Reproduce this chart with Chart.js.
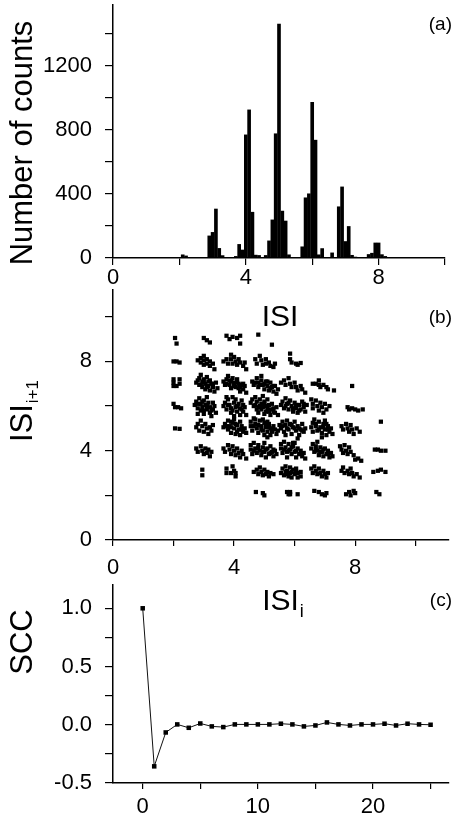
<!DOCTYPE html>
<html>
<head>
<meta charset="utf-8">
<title>ISI histogram, return map and SCC</title>
<script src="https://cdn.jsdelivr.net/npm/chart.js@4.4.1/dist/chart.umd.min.js"></script>
<style>
  html, body { margin: 0; padding: 0; background: #fff; }
  body { width: 453px; height: 824px; position: relative; overflow: hidden; }
  canvas { position: absolute; left: 0; }
</style>
</head>
<body>
<canvas id="histChart" width="453" height="330" style="top:0px"></canvas>
<canvas id="mapChart" width="453" height="340" style="top:280px"></canvas>
<canvas id="sccChart" width="453" height="249" style="top:575px"></canvas>
<script>
// (a) histogram of interspike intervals, bin centres and counts
const HIST_BINS = [0.5, 0.6, 0.7, 0.8, 0.9, 1.0, 1.1, 1.2, 1.3, 1.4, 1.5, 1.6, 1.7, 1.8, 1.9,
  2.0, 2.1, 2.2, 2.3, 2.4, 2.5, 2.6, 2.7, 2.8, 2.9, 3.0, 3.1, 3.2, 3.3, 3.4, 3.5, 3.6, 3.7, 3.8, 3.9,
  4.0, 4.1, 4.2, 4.3, 4.4, 4.5, 4.6, 4.7, 4.8, 4.9, 5.0, 5.1, 5.2, 5.3, 5.4, 5.5, 5.6, 5.7, 5.8, 5.9,
  6.0, 6.1, 6.2, 6.3, 6.4, 6.5, 6.6, 6.7, 6.8, 6.9, 7.0, 7.1, 7.2, 7.3, 7.4, 7.5, 7.6, 7.7, 7.8, 7.9,
  8.0, 8.1, 8.2, 8.3, 8.4, 8.5, 8.6, 8.7, 8.8, 8.9, 9.0, 9.1, 9.2, 9.3, 9.4, 9.5];
const HIST_COUNTS = [0, 2, 2, 2, 2, 2, 2, 2, 2, 2, 2, 2, 2, 2, 3,
  5, 22, 15, 4, 3, 3, 3, 4, 6, 140, 162, 308, 62, 17, 5, 4, 6, 12, 87, 52,
  771, 927, 288, 20, 18, 4, 18, 109, 240, 778, 1463, 295, 233, 22, 4, 4, 4, 72, 378, 403,
  975, 738, 22, 61, 5, 4, 34, 5, 322, 446, 105, 199, 19, 8, 4, 4, 4, 24, 32, 96,
  96, 23, 12, 4, 3, 3, 3, 3, 3, 5, 3, 2, 2, 2, 2, 2];
const HIST_X_TICKS = [0, 2, 4, 6, 8, 10];
const HIST_X_LABELS = [0, 4, 8];
const HIST_Y_TICKS = [0, 200, 400, 600, 800, 1000, 1200, 1400];
const HIST_Y_LABELS = [0, 400, 800, 1200];

// (b) return map: [ISI_i, ISI_i+1]
const ISI_PAIRS = [
  // row near 9
  [2.05,9.05],[2.1,8.8],
  [3.0,9.05],[3.1,8.95],[3.2,8.85],
  [3.75,9.15],[3.85,9.0],[3.95,9.1],[4.1,9.05],[4.2,9.15],[4.2,8.8],
  [4.8,9.2],[5.25,8.75],
  // row near 8
  [2.0,8.0],[2.1,8.0],[2.2,7.95],
  [2.8,8.05],[2.9,8.15],[2.9,7.95],[3.0,8.25],[3.0,8.05],[3.0,7.85],[3.1,8.1],[3.1,7.9],[3.2,8.0],[3.2,7.8],[3.3,7.9],[3.35,7.65],
  [3.65,8.0],[3.75,8.1],[3.8,7.9],[3.9,8.3],[3.9,8.1],[3.95,7.9],[4.0,8.2],[4.05,8.0],[4.1,7.85],[4.15,8.1],[4.2,7.95],[4.3,7.8],[4.35,7.95],[4.4,7.65],
  [4.7,8.1],[4.75,7.9],[4.85,8.25],[4.9,8.05],[4.95,7.85],[5.05,8.1],[5.05,7.9],[5.15,7.95],[5.2,7.8],[5.3,7.75],[5.35,7.9],
  [5.85,8.35],[5.85,8.1],[5.9,7.95],[6.05,7.9],[6.1,7.85],[6.2,7.93],
  // row near 7
  [2.0,7.2],[2.0,7.05],[2.0,6.9],[2.1,6.9],[2.2,7.0],[2.2,7.2],
  [2.75,7.05],[2.85,7.25],[2.85,6.95],[2.9,7.4],[2.95,7.1],[2.95,6.85],[3.0,7.2],[3.05,7.0],[3.05,6.75],[3.1,7.3],[3.15,7.1],[3.15,6.9],[3.2,6.7],[3.25,7.0],[3.3,6.85],[3.35,6.65],[3.4,7.05],[3.45,6.8],
  [2.8,7.15],[2.9,6.95],[3.0,7.05],[3.1,6.85],[3.2,7.15],[3.3,7.0],
  [3.65,7.1],[3.7,6.95],[3.75,7.2],[3.8,7.35],[3.85,7.15],[3.85,6.95],[3.9,6.8],[3.95,7.25],[4.0,7.05],[4.05,6.85],[4.1,7.2],[4.15,7.0],[4.15,6.8],[4.2,6.65],[4.25,6.95],[4.3,6.75],[4.35,6.9],[4.4,6.6],
  [3.75,7.0],[3.9,7.1],[4.0,6.9],[4.1,7.05],[4.2,6.85],[4.3,7.0],
  [4.6,7.1],[4.65,6.95],[4.75,7.25],[4.8,7.05],[4.8,6.85],[4.9,7.35],[4.9,7.15],[4.95,6.95],[5.0,6.75],[5.05,7.1],[5.1,6.9],[5.15,6.7],[5.2,7.05],[5.25,6.85],[5.3,6.65],[5.35,6.9],[5.4,6.55],[5.45,6.75],
  [4.7,7.05],[4.85,6.95],[5.0,7.0],[5.1,7.1],[5.2,6.8],[5.3,6.9],
  [5.55,7.05],[5.65,7.15],[5.7,6.95],[5.8,7.25],[5.85,7.0],[5.9,6.85],[6.0,7.05],[6.05,6.85],[6.1,6.7],[6.2,6.9],[6.25,6.75],[6.35,6.6],
  [6.6,7.0],[6.7,7.0],[6.8,7.15],[6.8,6.95],[6.85,6.85],[6.95,6.95],[7.05,6.85],[7.1,6.75],[7.3,6.7],
  [7.9,6.9],
  // row near 6
  [2.0,6.1],[2.05,5.95],[2.15,5.95],[2.25,5.9],
  [2.7,6.05],[2.75,6.2],[2.8,5.9],[2.85,6.35],[2.9,6.1],[2.9,5.8],[2.95,5.95],[3.0,6.25],[3.0,5.65],[3.05,6.05],[3.1,5.85],[3.15,6.15],[3.2,5.95],[3.2,5.7],[3.25,5.55],[3.3,5.85],[3.35,6.0],[3.4,5.7],[3.1,6.4],[2.8,5.65],
  [2.8,6.1],[2.95,6.2],[3.0,5.8],[3.1,6.0],[3.25,5.8],[3.3,6.15],
  [3.65,6.0],[3.7,6.15],[3.75,5.85],[3.8,6.3],[3.85,6.05],[3.9,5.9],[3.9,5.7],[3.95,6.4],[4.0,6.15],[4.05,5.95],[4.1,5.75],[4.15,6.1],[4.2,5.9],[4.2,5.6],[4.25,6.25],[4.3,5.75],[4.35,5.95],[4.4,5.6],[4.0,5.55],[3.75,6.4],
  [3.8,6.05],[3.95,5.8],[4.05,6.3],[4.1,6.0],[4.25,5.85],[4.3,6.05],
  [4.55,6.15],[4.6,6.3],[4.65,6.0],[4.7,6.4],[4.75,6.2],[4.8,5.95],[4.85,6.3],[4.9,6.1],[4.9,5.85],[4.95,6.45],[5.0,6.2],[5.05,6.0],[5.05,5.75],[5.1,6.3],[5.15,6.05],[5.2,5.85],[5.2,5.6],[5.25,6.1],[5.3,5.9],[5.35,5.7],[5.4,5.95],[5.45,5.6],[5.0,5.65],[4.8,5.7],
  [4.7,6.05],[4.85,6.0],[4.95,5.95],[5.1,5.9],[5.15,5.75],[5.3,5.75],[5.0,6.1],[4.75,5.85],
  [5.55,6.05],[5.6,6.2],[5.65,5.9],[5.7,6.35],[5.75,6.1],[5.8,5.85],[5.85,6.25],[5.9,6.0],[5.95,5.75],[6.0,6.15],[6.05,5.9],[6.1,5.7],[6.15,6.05],[6.2,5.85],[6.25,6.2],[6.3,5.95],[6.35,5.75],[6.4,6.05],
  [5.7,6.0],[5.8,6.15],[5.95,5.9],[6.05,6.05],[6.15,5.8],[6.3,6.1],
  [6.55,6.3],[6.6,6.1],[6.6,5.9],[6.7,6.25],[6.75,6.0],[6.8,5.8],[6.85,6.15],[6.9,5.95],[6.95,5.7],[7.0,6.1],[7.05,5.85],[7.15,6.0],
  [7.75,5.95],[7.8,5.85],[7.9,5.9],[8.0,5.85],[8.1,5.8],[8.25,5.85],
  // row near 5
  [2.05,5.0],[2.2,4.98],
  [2.75,5.05],[2.8,5.2],[2.85,4.9],[2.9,5.35],[2.95,5.1],[3.0,4.85],[3.05,5.2],[3.1,5.0],[3.15,4.75],[3.2,5.05],[3.25,4.9],[3.3,5.15],
  [3.65,5.05],[3.7,5.2],[3.8,4.95],[3.8,5.35],[3.85,5.1],[3.9,4.8],[3.95,5.25],[4.0,5.0],[4.05,4.75],[4.1,5.15],[4.15,4.95],[4.2,4.7],[4.25,5.1],[4.3,4.85],[4.35,5.0],[4.4,4.8],[4.0,5.4],[4.2,5.3],
  [3.75,5.1],[3.9,5.05],[4.05,5.2],[4.1,4.85],[4.25,4.95],[3.9,5.3],
  [4.55,5.1],[4.55,5.3],[4.6,4.9],[4.65,5.45],[4.7,5.2],[4.75,5.0],[4.8,4.8],[4.85,5.35],[4.9,5.1],[4.95,4.9],[5.0,5.25],[5.0,4.7],[5.05,5.05],[5.1,4.85],[5.15,5.2],[5.2,5.0],[5.2,4.7],[5.25,4.85],[5.3,5.1],[5.35,4.95],[5.4,4.75],[5.45,4.9],[4.7,5.4],[5.1,4.6],
  [4.65,5.1],[4.8,5.15],[4.9,4.95],[5.05,5.15],[5.15,5.05],[5.25,4.95],[5.1,5.3],[4.95,5.4],
  [5.5,5.15],[5.55,5.0],[5.6,5.3],[5.65,4.85],[5.7,5.15],[5.75,5.35],[5.8,4.95],[5.85,5.2],[5.9,4.75],[5.95,5.05],[6.0,5.3],[6.05,4.9],[6.1,5.1],[6.15,4.7],[6.2,4.95],[6.25,5.2],[6.3,4.85],[6.35,5.0],[6.1,4.55],[5.7,4.7],
  [5.6,5.1],[5.75,5.0],[5.9,5.15],[6.0,5.0],[6.15,5.0],[6.25,4.9],
  [6.55,5.05],[6.6,5.25],[6.6,4.85],[6.65,5.4],[6.7,5.1],[6.75,4.9],[6.8,5.3],[6.85,5.05],[6.9,4.8],[6.95,5.2],[7.0,4.95],[7.05,4.7],[7.1,5.1],[7.15,4.85],[7.2,5.0],[7.25,4.75],[6.9,4.6],[7.0,5.35],
  [6.7,5.2],[6.8,4.95],[6.95,5.05],[7.1,4.95],[7.05,5.2],
  [7.55,5.1],[7.6,4.95],[7.7,5.2],[7.75,5.0],[7.8,4.85],[7.85,5.15],[7.9,4.95],[7.95,4.75],[8.05,5.0],[8.15,4.85],
  [8.85,5.3],
  // row near 4
  [2.75,4.1],[2.8,3.95],[2.9,4.2],[2.95,4.0],[3.0,3.85],[3.05,4.1],[3.1,3.9],[3.15,4.05],[3.2,3.75],[3.25,3.95],
  [3.65,4.1],[3.7,3.95],[3.8,4.25],[3.85,4.05],[3.9,3.85],[3.95,4.2],[4.0,4.0],[4.05,3.8],[4.1,4.1],[4.15,3.9],[4.2,3.7],[4.25,4.0],[4.3,3.85],[4.4,3.65],
  [4.55,4.05],[4.55,4.25],[4.6,3.85],[4.65,4.35],[4.7,4.1],[4.75,3.9],[4.8,4.25],[4.85,4.0],[4.9,3.8],[4.95,4.15],[5.0,3.95],[5.05,3.7],[5.1,4.1],[5.15,3.85],[5.2,4.2],[5.25,3.95],[5.3,3.75],[5.35,4.0],[5.4,3.85],[5.0,4.35],
  [4.65,4.0],[4.8,4.1],[4.95,3.95],[5.05,4.05],[5.2,3.9],[5.3,4.05],
  [5.55,4.1],[5.55,4.3],[5.6,3.9],[5.65,4.4],[5.7,4.15],[5.75,3.95],[5.8,4.3],[5.85,4.05],[5.9,3.85],[5.95,4.2],[6.0,3.95],[6.05,3.7],[6.1,4.1],[6.15,3.85],[6.2,4.0],[6.25,3.75],[6.3,3.9],[6.0,4.35],[5.75,3.7],[6.35,3.65],
  [5.65,4.05],[5.8,4.0],[5.9,4.15],[6.05,4.0],[6.2,3.85],[5.95,4.35],
  [6.55,4.1],[6.6,4.3],[6.65,3.95],[6.7,4.2],[6.75,4.0],[6.8,3.8],[6.85,4.15],[6.9,3.95],[6.95,3.75],[7.0,4.1],[7.05,3.85],[7.1,4.0],[7.15,3.7],[7.2,3.9],[6.75,4.4],[7.25,3.75],
  [6.7,4.05],[6.85,3.95],[6.95,4.05],[7.1,3.85],
  [7.5,4.2],[7.55,4.05],[7.6,3.9],[7.65,4.25],[7.7,4.0],[7.75,3.85],[7.8,4.15],[7.85,3.95],[7.95,3.8],[8.0,3.6],[8.1,3.65],[8.2,3.55],
  [8.65,4.05],[8.75,4.05],[8.85,4.0],[9.0,4.0],
  // row near 3
  [2.95,3.15],[2.95,2.9],
  [3.75,3.2],[3.75,3.0],[3.95,3.3],[4.0,3.1],[4.05,3.0],[4.05,2.85],[3.9,3.0],
  [4.65,3.05],[4.75,3.15],[4.8,2.95],[4.85,3.25],[4.9,3.05],[4.95,2.9],[5.0,3.15],[5.05,2.95],[5.1,3.05],[5.15,2.85],[5.2,3.0],[5.3,2.95],
  [5.55,3.0],[5.6,3.2],[5.65,2.9],[5.7,3.3],[5.75,3.1],[5.8,2.85],[5.85,3.25],[5.85,3.0],[5.9,2.8],[5.95,3.15],[6.0,2.95],[6.05,3.2],[6.1,3.0],[6.1,2.8],[6.2,3.05],[6.2,2.85],
  [5.7,3.05],[5.9,3.05],[6.05,3.05],[5.75,2.95],
  [6.55,3.2],[6.6,3.0],[6.65,3.3],[6.7,3.1],[6.75,2.95],[6.8,3.2],[6.85,3.0],[6.9,2.85],[6.95,3.1],[7.0,2.95],[7.1,3.0],[7.05,2.8],
  [7.55,3.1],[7.6,3.25],[7.65,3.0],[7.75,3.1],[7.8,2.95],[7.85,3.2],[7.9,3.0],[7.95,2.85],[8.05,2.95],[8.15,2.8],
  [8.6,3.05],[8.75,3.1],[8.85,3.15],[9.0,3.05],
  // row near 2
  [4.72,2.15],[4.95,2.1],[5.0,2.0],
  [5.75,2.15],[5.8,2.05],[5.85,2.15],[5.85,2.05],[6.1,2.05],
  [6.65,2.2],[6.8,2.15],[6.9,2.05],[7.0,2.0],[7.05,2.1],
  [7.7,2.05],[7.8,2.15],[7.85,2.0],[7.95,2.2],[8.0,2.1],
  [8.7,2.15],[8.8,2.05]
];
const MAP_TICKS = [0, 2, 4, 6, 8, 10];
const MAP_LABELS = [0, 4, 8];

// (c) serial correlation coefficient against lag
const SCC_LAGS = [0, 1, 2, 3, 4, 5, 6, 7, 8, 9, 10, 11, 12, 13, 14, 15, 16, 17, 18, 19, 20, 21, 22, 23, 24, 25];
const SCC_VALUES = [1.0, -0.357, -0.066, 0.003, -0.026, 0.011, -0.014, -0.02, 0.003, 0.003, 0.003, 0.003, 0.009,
  0.003, -0.014, -0.006, 0.02, 0.003, -0.006, 0.003, 0.003, 0.009, -0.006, 0.009, 0.003, 0.0];
const SCC_X_TICKS = [0, 5, 10, 15, 20, 25];
const SCC_X_LABELS = [0, 10, 20];
const SCC_Y_TICKS = [-0.5, -0.25, 0, 0.25, 0.5, 0.75, 1.0];
const SCC_Y_LABELS = [-0.5, 0.0, 0.5, 1.0];

const FONT = '"Liberation Sans", Arial, Helvetica, sans-serif';
Chart.defaults.font.family = FONT;
Chart.defaults.color = '#000';

// draws axis titles (with subscripts) and panel letters
const textLabels = {
  id: 'textLabels',
  afterDraw(chart, args, opts) {
    const ctx = chart.ctx;
    (opts.items || []).forEach(item => {
      ctx.save();
      ctx.translate(item.x, item.y);
      if (item.rotate) ctx.rotate(item.rotate);
      ctx.fillStyle = '#000';
      ctx.textBaseline = 'alphabetic';
      ctx.textAlign = 'left';
      const mainFont = item.size + 'px ' + FONT;
      const subFont = (item.subSize || 0) + 'px ' + FONT;
      ctx.font = mainFont;
      const w1 = ctx.measureText(item.text).width;
      let w2 = 0;
      if (item.sub) {
        ctx.font = subFont;
        w2 = ctx.measureText(item.sub).width + 1;
      }
      let x0 = -(w1 + w2) / 2;
      if (item.align === 'right') x0 = -(w1 + w2);
      ctx.font = mainFont;
      ctx.fillText(item.text, x0, 0);
      if (item.sub) {
        ctx.font = subFont;
        ctx.fillText(item.sub, x0 + w1 + 1, item.subDrop);
      }
      ctx.restore();
    });
  }
};
Chart.register(textLabels);

function has(list, v) {
  return list.some(t => Math.abs(t - v) < 1e-6);
}

// fixed tick positions; labels only on some of them
function axisX(min, max, tickVals, labelVals, fmt, tickLen, pad, height) {
  return {
    type: 'linear', min, max, offset: false, bounds: 'data',
    ticks: { autoSkip: false, maxRotation: 0, minRotation: 0, padding: pad, font: { size: 22 },
      callback: v => has(labelVals, v) ? fmt(v) : '' },
    grid: { drawOnChartArea: false, offset: false, tickLength: tickLen, color: '#000', lineWidth: 1.2 },
    border: { color: '#000', width: 1.5 },
    afterBuildTicks: s => { s.ticks = tickVals.map(v => ({ value: v })); },
    afterFit: s => { s.height = height; s.paddingLeft = 0; s.paddingRight = 0; }
  };
}

function axisY(min, max, tickVals, labelVals, fmt) {
  return {
    type: 'linear', min, max, bounds: 'data',
    ticks: { autoSkip: false, padding: 13, font: { size: 22 },
      callback: v => has(labelVals, v) ? fmt(v) : '' },
    grid: { drawOnChartArea: false, tickLength: 8, color: '#000', lineWidth: 1.2 },
    border: { color: '#000', width: 1.5 },
    afterBuildTicks: s => { s.ticks = tickVals.map(v => ({ value: v })); },
    afterFit: s => { s.width = 113; s.paddingTop = 0; s.paddingBottom = 0; }
  };
}

const plain = v => String(v);
const oneDecimal = v => v.toFixed(1);

const base = {
  responsive: false,
  animation: false,
  devicePixelRatio: 1,
  events: []
};

// (a)
new Chart(document.getElementById('histChart'), {
  type: 'bar',
  data: {
    datasets: [{
      data: HIST_BINS.map((b, i) => ({ x: b, y: HIST_COUNTS[i] })),
      backgroundColor: '#000',
      borderWidth: 0,
      barPercentage: 1.1,
      categoryPercentage: 1
    }]
  },
  options: {
    ...base,
    layout: { padding: { top: 5, right: 8, left: 0, bottom: 0 } },
    plugins: {
      legend: { display: false },
      tooltip: { enabled: false },
      textLabels: {
        items: [
          { text: 'Number of counts', size: 31, x: 32, y: 143, rotate: -Math.PI / 2 },
          { text: 'ISI', size: 30, x: 280, y: 326 },
          { text: '(a)', size: 19, x: 452, y: 30, align: 'right' }
        ]
      }
    },
    scales: {
      x: axisX(0, 10, HIST_X_TICKS, HIST_X_LABELS, plain, 7, 0, 72),
      y: axisY(0, 1580, HIST_Y_TICKS, HIST_Y_LABELS, plain)
    }
  }
});

// (b)
new Chart(document.getElementById('mapChart'), {
  type: 'scatter',
  data: {
    datasets: [{
      data: ISI_PAIRS.map(p => ({ x: p[0], y: p[1] })),
      pointStyle: 'rect',
      pointRadius: 3.0,
      pointBackgroundColor: '#000',
      pointBorderWidth: 0
    }]
  },
  options: {
    ...base,
    layout: { padding: { top: 10, right: 0, left: 0, bottom: 0 } },
    plugins: {
      legend: { display: false },
      tooltip: { enabled: false },
      textLabels: {
        items: [
          { text: 'ISI', sub: 'i+1', size: 31, subSize: 17, subDrop: 6, x: 32, y: 131, rotate: -Math.PI / 2 },
          { text: 'ISI', sub: 'i', size: 30, subSize: 18, subDrop: 7, x: 283, y: 330 },
          { text: '(b)', size: 19, x: 452, y: 43, align: 'right' }
        ]
      }
    },
    scales: {
      x: axisX(0, 11.1, MAP_TICKS, MAP_LABELS, plain, 6, 9, 80),
      y: axisY(0, 11.2, MAP_TICKS, MAP_LABELS, plain)
    }
  }
});

// (c)
new Chart(document.getElementById('sccChart'), {
  type: 'line',
  data: {
    datasets: [{
      data: SCC_LAGS.map((l, i) => ({ x: l, y: SCC_VALUES[i] })),
      borderColor: '#111',
      borderWidth: 1,
      tension: 0,
      pointStyle: 'rect',
      pointRadius: 3.2,
      pointBackgroundColor: '#000',
      pointBorderWidth: 0
    }]
  },
  options: {
    ...base,
    layout: { padding: { top: 10, right: 0, left: 0, bottom: 0 } },
    plugins: {
      legend: { display: false },
      tooltip: { enabled: false },
      textLabels: {
        items: [
          { text: 'SCC', size: 31, x: 32, y: 67, rotate: -Math.PI / 2 },
          { text: '(c)', size: 19, x: 452, y: 31, align: 'right' }
        ]
      }
    },
    scales: {
      x: axisX(-2.58, 26.6, SCC_X_TICKS, SCC_X_LABELS, plain, 6, 5, 41),
      y: axisY(-0.5, 1.2, SCC_Y_TICKS, SCC_Y_LABELS, oneDecimal)
    }
  }
});
</script>
</body>
</html>
